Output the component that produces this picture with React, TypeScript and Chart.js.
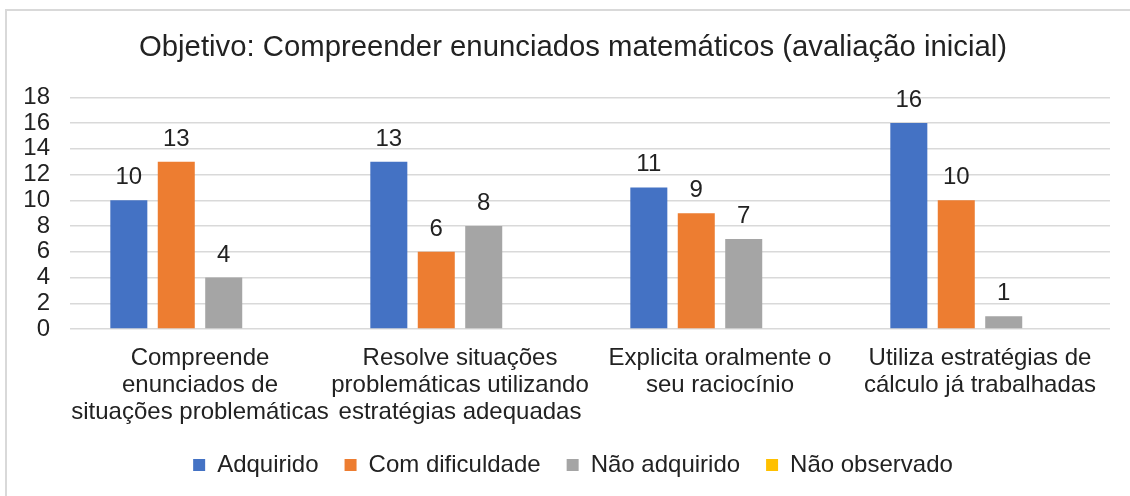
import React, { useEffect, useRef } from "react";
import { Chart, registerables } from "chart.js";

Chart.register(...registerables);

const title = "Objetivo: Compreender enunciados matemáticos (avaliação inicial)";
const categories: string[][] = [
  ["Compreende", "enunciados de", "situações problemáticas"],
  ["Resolve situações", "problemáticas utilizando", "estratégias adequadas"],
  ["Explicita oralmente o", "seu raciocínio"],
  ["Utiliza estratégias de", "cálculo já trabalhadas"],
];
const seriesNames = ["Adquirido", "Com dificuldade", "Não adquirido", "Não observado"];
const adquirido = [10, 13, 11, 16];
const comDificuldade = [13, 6, 9, 10];
const naoAdquirido = [4, 8, 7, 1];
const naoObservado = [0, 0, 0, 0];
const colors = ["#4472C4", "#ED7D31", "#A5A5A5", "#FFC000"];
const yMin = 0;
const yMax = 18;
const yStep = 2;

const FONT = "'Liberation Sans', Arial, sans-serif";
const TEXT = "#222222";

const dataLabelPlugin = {
  id: "dataLabels",
  afterDatasetsDraw(chart: any) {
    const ctx = chart.ctx;
    ctx.save();
    ctx.font = `24px ${FONT}`;
    ctx.fillStyle = TEXT;
    ctx.textAlign = "center";
    ctx.textBaseline = "alphabetic";
    chart.data.datasets.forEach((ds: any, i: number) => {
      const meta = chart.getDatasetMeta(i);
      meta.data.forEach((bar: any, j: number) => {
        const v = ds.data[j];
        if (!v) return;
        ctx.fillText(String(v), bar.x, bar.y - 16);
      });
    });
    ctx.restore();
  },
};

export default function App() {
  const ref = useRef<HTMLCanvasElement | null>(null);
  useEffect(() => {
    if (!ref.current) return;
    const seriesData = [adquirido, comDificuldade, naoAdquirido, naoObservado];
    const chart = new Chart(ref.current, {
      type: "bar",
      data: {
        labels: categories,
        datasets: seriesNames.map((name, i) => ({
          label: name,
          data: seriesData[i],
          backgroundColor: colors[i],
          borderWidth: 0,
          categoryPercentage: 0.73,
          barPercentage: 0.78,
        })),
      },
      options: {
        responsive: false,
        animation: false,
        layout: { padding: { top: 0, left: 0, right: 0, bottom: 9 } },
        plugins: {
          title: {
            display: true,
            text: title,
            color: TEXT,
            font: { family: FONT, size: 29.3, weight: "normal" },
            padding: { top: 19.6, bottom: 31.6 },
          },
          legend: {
            position: "bottom",
            labels: {
              color: TEXT,
              font: { family: FONT, size: 24 },
              boxWidth: 12,
              boxHeight: 12,
              padding: 26,
            },
          },
          tooltip: { enabled: false },
        },
        scales: {
          x: {
            grid: { display: false, drawTicks: false },
            border: { display: false },
            ticks: {
              color: TEXT,
              font: { family: FONT, size: 24, lineHeight: 1.125 },
              padding: 16,
              maxRotation: 0,
              autoSkip: false,
            },
            afterFit(scale: any) {
              scale.height = 98;
            },
          },
          y: {
            min: yMin,
            max: yMax,
            grid: { color: "#D9D9D9", lineWidth: 1.5, drawTicks: false },
            border: { display: false },
            ticks: {
              stepSize: yStep,
              autoSkip: false,
              color: TEXT,
              font: { family: FONT, size: 24 },
              padding: 20,
            },
            afterFit(scale: any) {
              scale.width = 63;
            },
          },
          yRightSpace: {
            position: "right",
            display: true,
            grid: { display: false, drawTicks: false },
            border: { display: false },
            ticks: { display: false },
            afterFit(scale: any) {
              scale.width = 29;
            },
          },
        },
      },
      plugins: [dataLabelPlugin],
    });
    return () => chart.destroy();
  }, []);

  return (
    <div
      style={{
        position: "fixed",
        left: 5,
        top: 9,
        width: 1132,
        height: 500,
        border: "2px solid #D9D9D9",
        background: "#fff",
      }}
    >
      <canvas ref={ref} width={1132} height={485} style={{ display: "block" }} />
    </div>
  );
}
